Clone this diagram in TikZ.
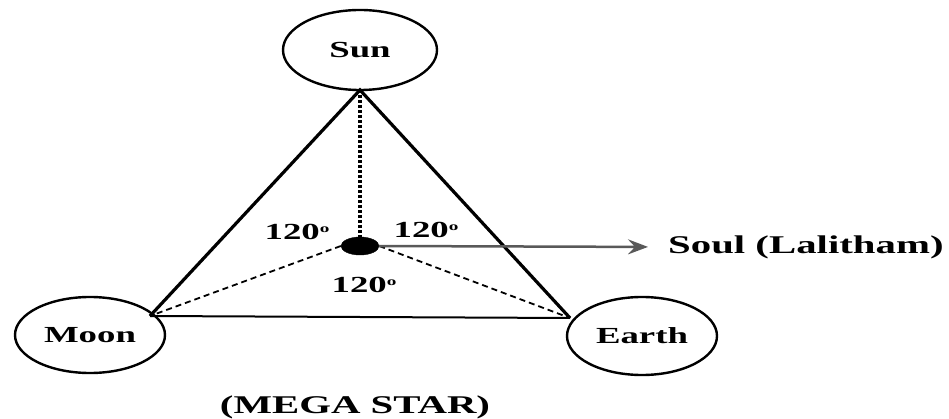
\documentclass[tikz,border=0pt]{standalone}
\usepackage{fontspec}
\setmainfont{Liberation Serif}[FakeStretch=1.6]
\usetikzlibrary{arrows.meta,shapes.geometric}
\newcommand{\degmark}{\raisebox{7pt}{\fontsize{12}{12}\selectfont o}}
\begin{document}
\begin{tikzpicture}[x=1pt,y=-1pt,
  body/.style={draw,line width=2.4pt,ellipse,inner sep=0pt,font=\fontsize{23}{23}\selectfont\bfseries},
  side/.style={line width=3.2pt},
  spoke/.style={line width=1.8pt,dash pattern=on 6pt off 4pt},
  angle/.style={font=\fontsize{23}{23}\selectfont\bfseries},
  big/.style={font=\fontsize{25.5}{25.5}\selectfont\bfseries}]
\useasboundingbox (0,0) rectangle (949,419);
\node[body,minimum width=154pt,minimum height=80pt] (sun) at (360,50) {Sun};
\node[body,minimum width=150pt,minimum height=76pt] (moon) at (90,335) {Moon};
\node[body,minimum width=150pt,minimum height=78pt] (earth) at (642,336) {Earth};
\coordinate (A) at (360,90);
\coordinate (B) at (150,316);
\coordinate (C) at (570,318);
\draw[side] (B) -- (A) -- (C);
\draw[line width=2pt] (B) -- (C);
\node[draw,fill=black,ellipse,minimum width=38pt,minimum height=18pt,inner sep=0pt] (dot) at (360,246) {};
\draw[line width=4pt,dash pattern=on 3pt off 2pt] (A) -- (dot.north);
\draw[spoke] (dot.west) -- (B);
\draw[spoke] (dot.east) -- (C);
\node[big,anchor=west,inner sep=0pt] (soul) at (668,247) {Soul (Lalitham)};
\draw[line width=2.5pt,gray!70!black,shorten >=20pt,-{Stealth[length=20pt,width=15pt,inset=7pt]}] (dot.east) -- (soul.west);
\node[angle] (a1) at (297,232) {120\degmark};
\node[angle] (a2) at (426,230) {120\degmark};
\node[angle] (a3) at (364,285) {120\degmark};
\node[big] (mega) at (355,407) {(MEGA STAR)};
\end{tikzpicture}
\end{document}
